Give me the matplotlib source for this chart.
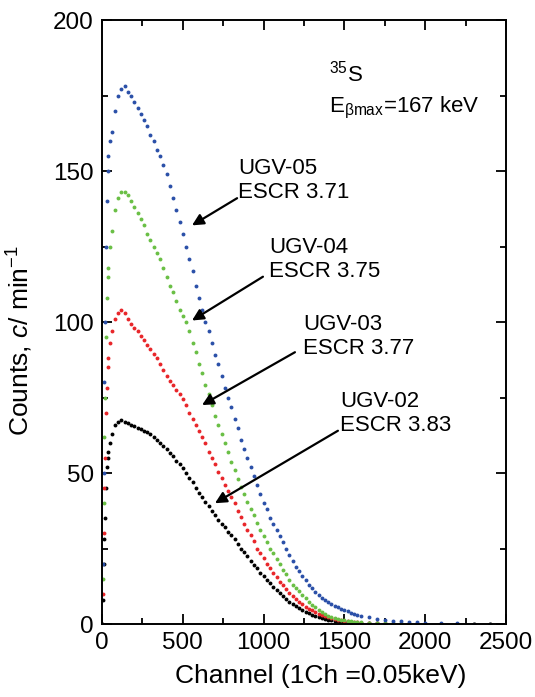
import matplotlib
matplotlib.use("Agg")
import matplotlib.pyplot as plt
from matplotlib.ticker import MultipleLocator

plt.rcParams['font.family'] = ['Liberation Sans', 'DejaVu Sans']
plt.rcParams['mathtext.fontset'] = 'custom'
plt.rcParams['mathtext.rm'] = 'Liberation Sans'
plt.rcParams['mathtext.it'] = 'Liberation Sans:italic'

# channels (shared by all spectra)
channels = [0, 5, 10, 15, 20, 25, 30, 35, 40, 50, 60, 80, 100, 120, 140, 160, 180, 200,
            220, 240, 260, 280, 300, 320, 340, 360, 380, 400, 420, 440, 460, 480, 500,
            520, 540, 560, 580, 600, 620, 640, 660, 680, 700, 720, 740, 760, 780, 800,
            820, 840, 860, 880, 900, 920, 940, 960, 980, 1000, 1020, 1040, 1060, 1080,
            1100, 1120, 1140, 1160, 1180, 1200, 1220, 1240, 1260, 1280, 1300, 1320,
            1340, 1360, 1380, 1400, 1420, 1440, 1460, 1480, 1500, 1520, 1540, 1560,
            1580, 1600, 1650, 1700, 1750, 1800, 1850, 1900, 1950, 2000, 2100, 2200,
            2300, 2400, 2500]

ugv05 = [0, 20, 50, 80, 100, 125, 140, 150, 155, 160, 163, 170, 175, 177, 178, 176, 175, 173,
         171, 169, 167, 165, 162, 160, 157, 155, 152, 149, 145, 141, 137, 133, 129,
         125, 121, 117, 112, 108, 104, 100, 97, 93, 89, 86, 82, 78, 75, 72,
         68, 65, 61, 58, 55, 52, 49, 46, 43, 40, 38, 35, 33, 31,
         29, 27, 25, 23, 21, 19, 17.5, 16, 14.5, 13, 11.8, 10.6,
         9.6, 8.7, 7.9, 7.2, 6.6, 6.0, 5.5, 5.0, 4.6, 4.2, 3.8, 3.4,
         3.1, 2.8, 2.3, 1.8, 1.4, 1.1, 0.9, 0.7, 0.6, 0.5, 0.3, 0.2,
         0.1, 0.05, 0]

ugv04 = [0, 15, 40, 62, 75, 95, 108, 115, 118, 125, 130, 137, 141, 143, 143, 142, 140, 138,
         136, 134, 132, 129, 127, 125, 123, 121, 118, 115, 112, 110, 107, 104, 102,
         100, 97, 93, 90, 86, 83, 79, 76, 72.5, 69, 66, 63, 60, 57, 53.5,
         51, 48, 45.5, 43, 40.5, 38, 36, 33.5, 31, 29, 27, 25, 23.5, 21.5,
         20, 18, 16.5, 14.5, 13, 12, 10.8, 9.6, 8.5, 7.4, 6.4, 5.5,
         4.6, 3.9, 3.3, 2.8, 2.4, 2.0, 1.7, 1.4, 1.2, 1.0, 0.9, 0.8,
         0.7, 0.6, 0.5, 0.4, 0.3, 0.25, 0.2, 0.15, 0.1, 0.1, 0.05, 0,
         0, 0, 0]

ugv03 = [0, 10, 30, 45, 55, 70, 78, 85, 88, 93, 97, 101, 103, 104, 103, 101, 99.5, 98,
         97, 95.5, 94, 92.5, 91, 89.5, 88, 86, 84, 82, 80.5, 79, 77.5, 76, 74.5,
         72.5, 70, 68, 66, 64, 62, 60, 57, 55, 53, 50.5, 48.5, 46, 44, 42,
         40, 37.5, 35.5, 33, 31, 29.5, 27.5, 25, 23.5, 22, 20, 18.5, 17, 15.5,
         14, 12.8, 11.5, 10.3, 9.2, 8.3, 7.4, 6.6, 5.8, 5.1, 4.5, 3.9,
         3.4, 3.0, 2.6, 2.2, 1.9, 1.6, 1.4, 1.2, 1.0, 0.9, 0.8, 0.7,
         0.6, 0.5, 0.4, 0.3, 0.2, 0.15, 0.1, 0.1, 0.05, 0, 0, 0,
         0, 0, 0]

ugv02 = [0, 8, 20, 28, 35, 45, 52, 55, 57, 60, 63, 66, 67, 67.5, 67, 66.5, 66, 65.5,
         65, 64.5, 64, 63.5, 63, 62, 61, 60, 59, 58, 56.5, 55.5, 54, 53, 51.5,
         50, 48.5, 47, 45, 43.5, 42, 40.5, 39, 37.5, 36, 34.5, 33, 32, 30.5, 29.5,
         28, 26.5, 25, 24, 22.5, 21, 19.5, 18.5, 17, 16, 14.7, 13.5, 12.3, 11.2,
         10.2, 9.2, 8.3, 7.4, 6.6, 5.9, 5.2, 4.6, 4.0, 3.5, 3.0, 2.6,
         2.2, 1.9, 1.6, 1.4, 1.2, 1.0, 0.9, 0.8, 0.7, 0.6, 0.5, 0.45,
         0.4, 0.35, 0.25, 0.2, 0.15, 0.1, 0.05, 0, 0, 0, 0, 0,
         0, 0, 0]

series = [
    (ugv02, 'black'),
    (ugv03, '#e8262a'),
    (ugv04, '#6abf45'),
    (ugv05, '#2b50a8'),
]

labels = ["UGV-05\nESCR 3.71", "UGV-04\nESCR 3.75", "UGV-03\nESCR 3.77", "UGV-02\nESCR 3.83"]
arrow_start = [(836, 141), (996, 115), (1194, 90), (1460, 64)]
arrow_tip = [(557, 132), (557, 100.5), (619, 72.5), (699, 40)]
text_pos = [(842, 141), (1033, 115), (1244, 89.4), (1473, 64)]

fig = plt.figure(figsize=(5.35, 6.97), dpi=100)
ax = fig.add_axes([0.1907, 0.1047, 0.755, 0.8666])

for vals, col in series:
    ax.plot(channels, vals, linestyle='none', marker='o', markersize=2.8,
            markeredgewidth=0, color=col)

for lab, start, tip, txt in zip(labels, arrow_start, arrow_tip, text_pos):
    ax.annotate('', xy=tip, xytext=start,
                arrowprops=dict(arrowstyle='-|>', color='black', lw=1.6,
                                mutation_scale=17, shrinkA=0, shrinkB=0))
    ax.text(txt[0], txt[1], lab, fontsize=16, ha='left', va='baseline',
            linespacing=1.2)

ax.text(1405, 179.5, r'$^{35}$S', fontsize=16, ha='left', va='baseline')
ax.text(1405, 169.5, r'E$_{\mathrm{βmax}}$=167 keV', fontsize=16, ha='left', va='baseline')

ax.set_xlim(0, 2500)
ax.set_ylim(0, 200)
ax.xaxis.set_major_locator(MultipleLocator(500))
ax.xaxis.set_minor_locator(MultipleLocator(250))
ax.yaxis.set_major_locator(MultipleLocator(50))
ax.yaxis.set_minor_locator(MultipleLocator(25))
ax.tick_params(which='both', direction='in', top=True, right=True, labelsize=17.5, width=1.3)
ax.tick_params(which='major', length=7, pad=6)
ax.tick_params(which='minor', length=4)
for s in ax.spines.values():
    s.set_linewidth(1.4)

ax.set_xlabel('Channel (1Ch =0.05keV)', fontsize=19)
ax.set_ylabel(r'Counts, $\it{c}$/ min$^{-1}$', fontsize=19)
ax.xaxis.set_label_coords(0.542, -0.066)
ax.yaxis.set_label_coords(-0.166, 0.47)

fig.savefig('out.png', dpi=100)
